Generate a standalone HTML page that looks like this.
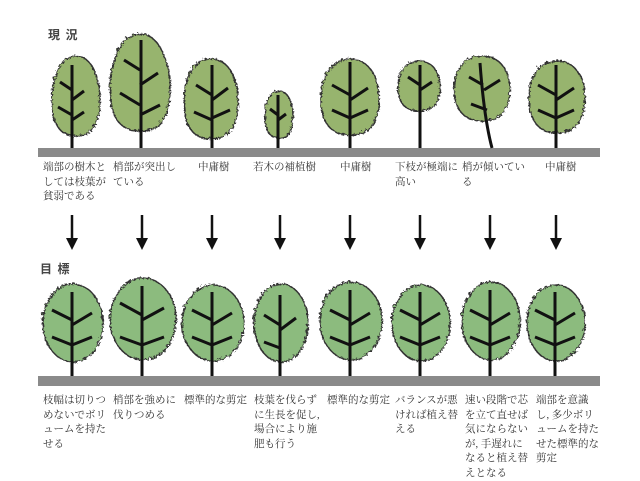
<!DOCTYPE html>
<html><head><meta charset="utf-8"><style>
body{margin:0;background:#fff;width:640px;height:480px;overflow:hidden;position:relative;font-family:"Liberation Serif","Noto Serif CJK SC","Noto Sans CJK JP",serif;}
.t{position:absolute;font-size:10.5px;line-height:14.5px;color:#333;white-space:nowrap}
</style></head><body>
<svg width="640" height="480" style="position:absolute;left:0;top:0">
<defs>
<filter id="r"><feTurbulence baseFrequency="0.25" numOctaves="2" seed="3"/><feDisplacementMap in="SourceGraphic" scale="4"/></filter>
</defs>
<rect x="38" y="148" width="562" height="9" fill="#8a8a8a"/>
<rect x="38" y="376" width="562" height="10" fill="#8a8a8a"/>
<g stroke="#111" fill="none">
<g fill="#97b46e" stroke="#333" stroke-width="1.5" filter="url(#r)">
<path d="M75 55C92 55 99 80 99 100C99 125 90 135 75 135C60 135 51 125 51 100C51 80 58 55 75 55Z"/>
<path d="M139 33C160 33 169 65 169 88C169 118 158 130 139 130C120 130 109 118 109 88C109 65 118 33 139 33Z"/>
<path d="M210 58C228 58 237 78 237 100C237 125 228 138 210 138C192 138 183 125 183 100C183 78 192 58 210 58Z"/>
<path d="M278 90C287 90 292 102 292 115C292 130 287 137 278 137C269 137 264 130 264 115C264 102 269 90 278 90Z"/>
<path d="M349 58C368 58 378 76 378 98C378 122 368 134 349 134C330 134 320 122 320 98C320 76 330 58 349 58Z"/>
<path d="M418 60C432 60 439 72 439 86C439 102 432 110 418 110C404 110 397 102 397 86C397 72 404 60 418 60Z"/>
<path d="M481 55C499 55 509 70 509 88C509 108 499 120 481 120C463 120 453 108 453 88C453 70 463 55 481 55Z"/>
<path d="M556 60C574 60 584 76 584 97C584 120 574 132 556 132C538 132 528 120 528 97C528 76 538 60 556 60Z"/>
</g>
<g stroke-width="3">
<path d="M72 148V65M72 90l-12-8M72 100l12-9M72 115l-14-8M72 120l12-8"/>
<path d="M141 148V40M140 70l-16-10M140 85l18-12M140 105l-20-12M140 115l20-10"/>
<path d="M212 148V65M212 95l-16-10M212 100l16-12M212 120l-18-8M212 118l18-8"/>
<path d="M278 148V95M278 115l-8-6M278 120l8-6"/>
<path d="M350 148V62M350 95l-18-10M350 100l18-12M350 118l-18-8M350 118l18-8"/>
<path d="M420 148V65M420 85l-12-8M420 90l12-8"/>
<path d="M492 148q-8-30-12-85M483 85l-14-8M484 90l16-10M487 110l-16-6"/>
<path d="M556 148V65M556 95l-18-10M556 100l18-12M556 118l-18-8M556 118l18-8"/>
</g>
<g fill="#8cbb7e" stroke="#333" stroke-width="1.5" filter="url(#r)">
<ellipse cx="72" cy="322" rx="30" ry="39"/>
<ellipse cx="142" cy="318" rx="33" ry="41"/>
<ellipse cx="212" cy="322" rx="31" ry="38"/>
<ellipse cx="280" cy="322" rx="27" ry="39"/>
<ellipse cx="350" cy="320" rx="31" ry="39"/>
<ellipse cx="420" cy="322" rx="29" ry="38"/>
<ellipse cx="490" cy="320" rx="29" ry="39"/>
<ellipse cx="555" cy="322" rx="29" ry="38"/>
</g>
<g stroke-width="3">
<path d="M72 376V292M72 320l-20-10M72 325l20-12M72 345l-20-8M72 345l20-8"/>
<path d="M142 376V286M142 315l-22-12M142 320l22-12M142 345l-22-8M142 345l22-8"/>
<path d="M212 376V292M212 320l-20-10M212 325l20-12M212 345l-20-8M212 345l20-8"/>
<path d="M280 376V295M280 325l-16-10M280 330l16-12M280 348l-16-6"/>
<path d="M350 376V290M350 320l-20-10M350 325l20-12M350 345l-20-8M350 345l20-8"/>
<path d="M420 376V292M420 320l-20-10M420 325l20-12M420 345l-20-8M420 345l20-8"/>
<path d="M490 376V290M490 320l-20-10M490 325l20-12M490 345l-20-8M490 345l20-8"/>
<path d="M555 376V292M555 320l-20-10M555 325l20-12M555 345l-20-8M555 345l20-8"/>
</g>
</g>
<g fill="#111" stroke="#111" stroke-width="2.5">
<path d="M72 215V240M142 215V240M212 215V240M280 215V240M350 215V240M420 215V240M490 215V240M556 215V240"/>
</g>
<g fill="#111">
<path d="M66 238h12l-6 12z"/><path d="M136 238h12l-6 12z"/><path d="M206 238h12l-6 12z"/><path d="M274 238h12l-6 12z"/>
<path d="M344 238h12l-6 12z"/><path d="M414 238h12l-6 12z"/><path d="M484 238h12l-6 12z"/><path d="M550 238h12l-6 12z"/>
</g>
</svg>
<div class="t" style="left:48px;top:28px;font-size:12px;font-family:'Noto Sans CJK JP',sans-serif;font-weight:bold;color:#444">現&nbsp;&nbsp;況</div>
<div class="t" style="left:40px;top:262px;font-size:12px;font-family:'Noto Sans CJK JP',sans-serif;font-weight:bold;color:#444">目&nbsp;&nbsp;標</div>
<div class="t" style="left:43px;top:161px">端部の樹木と<br>しては枝葉が<br>貧弱である</div>
<div class="t" style="left:113px;top:161px">梢部が突出し<br>ている</div>
<div class="t" style="left:198px;top:161px">中庸樹</div>
<div class="t" style="left:253px;top:161px">若木の補植樹</div>
<div class="t" style="left:340px;top:161px">中庸樹</div>
<div class="t" style="left:395px;top:161px">下枝が極端に<br>高い</div>
<div class="t" style="left:462px;top:161px">梢が傾いてい<br>る</div>
<div class="t" style="left:545px;top:161px">中庸樹</div>
<div class="t" style="left:43px;top:394px">枝幅は切りつ<br>めないでボリ<br>ュームを持た<br>せる</div>
<div class="t" style="left:113px;top:394px">梢部を強めに<br>伐りつめる</div>
<div class="t" style="left:184px;top:394px">標準的な剪定</div>
<div class="t" style="left:254px;top:394px">枝葉を伐らず<br>に生長を促し,<br>場合により施<br>肥も行う</div>
<div class="t" style="left:327px;top:394px">標準的な剪定</div>
<div class="t" style="left:395px;top:394px">バランスが悪<br>ければ植え替<br>える</div>
<div class="t" style="left:465px;top:394px">速い段階で芯<br>を立て直せば<br>気にならない<br>が, 手遅れに<br>なると植え替<br>えとなる</div>
<div class="t" style="left:536px;top:394px">端部を意識<br>し, 多少ボリ<br>ュームを持た<br>せた標準的な<br>剪定</div>
</body></html>
